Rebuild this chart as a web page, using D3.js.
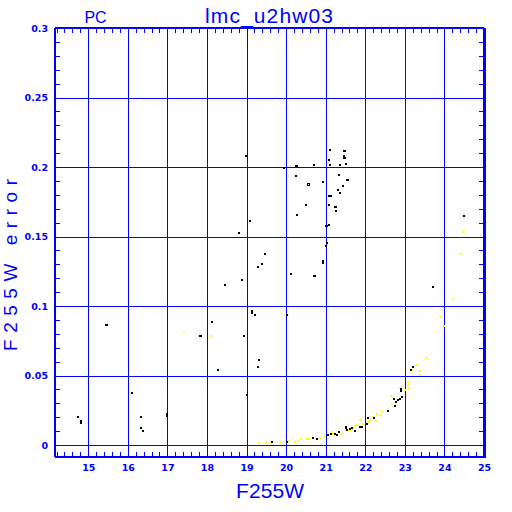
<!DOCTYPE html>
<html>
<head>
  <title>lmc_u2hw03</title>
  <script src="https://d3js.org/d3.v7.min.js"></script>
  <style>
    body { margin: 0; background: white; }
    svg { display: block; }
    .grid line, .minor line { stroke: #0000ff; shape-rendering: crispEdges; }
    .grid path, .minor path, .labels path { display: none; }
    .labels text { fill: #0000ff; font-family: "DejaVu Sans", sans-serif; font-weight: bold; font-size: 9.5px; }
    .title { fill: #0000ff; font-family: "Liberation Sans", sans-serif; }
  </style>
</head>
<body>
<div id="chart"></div>
<script>
  // magnitude / error of the black (measured) points
  const blackMag = [21.08, 21.43, 21.47, 21.43, 21.44, 21.46, 21.05, 18.96, 20.22, 20.25, 20.67, 21.08, 21.34,
    21.48, 19.91, 20.22, 21.30, 21.51, 21.54, 20.90, 21.40, 21.28, 21.33, 21.07, 21.10, 20.47, 21.05, 21.21,
    21.24, 21.23, 20.24, 20.98, 21.00, 21.05, 19.05, 18.78, 21.02, 20.97, 19.43, 19.36, 19.26, 20.90, 20.90,
    20.11, 20.68, 20.71, 18.85, 18.42, 15.42, 15.45, 18.09, 17.80, 17.83, 18.90, 19.10, 19.10, 19.18, 19.28,
    19.26, 18.25, 18.98, 16.07, 14.71, 14.78, 14.78, 16.32, 16.32, 16.37, 16.96, 16.96, 19.63, 20.00, 20.65,
    20.75, 21.04, 21.11, 21.21, 21.26, 21.31, 21.49, 21.49, 21.51, 21.58, 21.65, 21.72, 21.83, 21.88, 22.01,
    22.04, 22.20, 22.55, 22.72, 22.76, 22.71, 22.80, 22.85, 22.90, 22.88, 22.88, 23.18, 23.12, 24.47, 23.69,
    20.00];
  const blackErr = [0.213, 0.212, 0.212, 0.209, 0.2074, 0.2074, 0.206, 0.209, 0.2014, 0.2014, 0.2022, 0.2022, 0.2022,
    0.2029, 0.2000, 0.1945, 0.1952, 0.1916, 0.1916, 0.190, 0.1873, 0.1844, 0.1822, 0.180, 0.180, 0.1736, 0.1736, 0.1722,
    0.1722, 0.1693, 0.1664, 0.1585, 0.1585, 0.1592, 0.1621, 0.1535, 0.1463, 0.1441, 0.1383, 0.1312, 0.129, 0.1329, 0.1315,
    0.124, 0.1225, 0.1225, 0.1196, 0.116, 0.0873, 0.0873, 0.0894, 0.0794, 0.0794, 0.0794, 0.0969, 0.0955, 0.0945, 0.0621,
    0.0568, 0.0549, 0.0369, 0.0381, 0.0211, 0.0178, 0.0164, 0.0211, 0.0132, 0.011, 0.0228, 0.0214, 0.0031, 0.0031, 0.0058,
    0.005, 0.0079, 0.0086, 0.0086, 0.0079, 0.0101, 0.0129, 0.0136, 0.0115, 0.012, 0.0132, 0.0108, 0.0139, 0.0137, 0.0158,
    0.0201, 0.0201, 0.0252, 0.029, 0.0317, 0.0338, 0.0331, 0.034, 0.035, 0.0407, 0.0393, 0.0568, 0.0547, 0.1653, 0.1142,
    0.0945];
  // the one open square
  const openMag = [20.53];
  const openErr = [0.1883];

  // yellow points
  const yellowMag = [17.39, 18.07, 19.28, 19.47, 19.57, 19.81, 19.96, 20.06, 20.20, 20.27, 20.35, 20.50, 20.55, 20.83,
    20.96, 21.13, 21.16, 21.35, 21.53, 21.58, 21.66, 21.72, 21.77, 21.83, 21.88, 22.06, 22.09, 22.14, 22.25, 22.28,
    22.34, 22.39, 22.62, 22.65, 22.84, 22.97, 23.05, 23.05, 23.08, 23.15, 23.25, 23.28, 23.35, 23.35, 23.50, 23.86,
    23.96, 24.19, 24.39, 24.45, 24.47];
  const yellowErr = [0.0822, 0.0794, 0.0024, 0.0022, 0.0022, 0.0029, 0.0029, 0.0036, 0.0031, 0.0036, 0.0048, 0.005,
    0.005, 0.0058, 0.0074, 0.0101, 0.0088, 0.0088, 0.0113, 0.0113, 0.0124, 0.0142, 0.0151, 0.0187, 0.016, 0.0175, 0.0187,
    0.0209, 0.018, 0.023, 0.0221, 0.0252, 0.036, 0.0304, 0.0417, 0.0403, 0.046, 0.0439, 0.042, 0.0549, 0.0583, 0.0583,
    0.054, 0.0511, 0.0633, 0.0928, 0.0861, 0.1058, 0.1383, 0.1542, 0.1542];

  const xLabels = [15, 16, 17, 18, 19, 20, 21, 22, 23, 24, 25];
  const yLabels = ["0", "0.05", "0.1", "0.15", "0.2", "0.25", "0.3"];

  const plotLeft = 55, plotRight = 484, plotTop = 28, plotBottom = 457;

  const svg = d3.select("#chart").append("svg")
    .attr("width", 512)
    .attr("height", 512);

  const x = d3.scaleLinear().domain([14.16, 25]).range([plotLeft, plotRight]);
  const y = d3.scaleLinear().domain([-0.0086, 0.3]).range([plotBottom, plotTop]);

  const yTickVals = yLabels.map(Number);

  // grid lines
  svg.append("g").attr("class", "grid")
    .attr("transform", `translate(0,${plotBottom})`)
    .call(d3.axisBottom(x).tickValues(xLabels.slice(0, -1)).tickSize(-(plotBottom - plotTop)).tickFormat(""));
  svg.append("g").attr("class", "grid")
    .attr("transform", `translate(${plotLeft},0)`)
    .call(d3.axisLeft(y).tickValues(yTickVals.slice(0, -1)).tickSize(-(plotRight - plotLeft)).tickFormat(""));

  // minor ticks on all four sides
  const xMinor = d3.range(142, 250, 2).map(d => d / 10);
  const yMinor = d3.range(0, 30).map(d => d / 100);
  svg.append("g").attr("class", "minor")
    .attr("transform", `translate(0,${plotBottom})`)
    .call(d3.axisBottom(x).tickValues(xMinor).tickSize(-5).tickFormat(""));
  svg.append("g").attr("class", "minor")
    .attr("transform", `translate(0,${plotTop})`)
    .call(d3.axisTop(x).tickValues(xMinor).tickSize(-5).tickFormat(""));
  svg.append("g").attr("class", "minor")
    .attr("transform", `translate(${plotLeft},0)`)
    .call(d3.axisLeft(y).tickValues(yMinor).tickSize(-5).tickFormat(""));
  svg.append("g").attr("class", "minor")
    .attr("transform", `translate(${plotRight},0)`)
    .call(d3.axisRight(y).tickValues(yMinor).tickSize(-5).tickFormat(""));

  // frame
  const frame = svg.append("g").attr("stroke", "#0000ff").attr("shape-rendering", "crispEdges");
  frame.append("line").attr("x1", plotLeft).attr("x2", plotRight).attr("y1", plotTop).attr("y2", plotTop).attr("stroke-width", 1.5);
  frame.append("line").attr("x1", plotLeft).attr("x2", plotRight).attr("y1", plotBottom).attr("y2", plotBottom).attr("stroke-width", 1.5);
  frame.append("line").attr("x1", plotLeft).attr("x2", plotLeft).attr("y1", plotTop).attr("y2", plotBottom).attr("stroke-width", 1.5);
  frame.append("line").attr("x1", plotRight).attr("x2", plotRight).attr("y1", plotTop).attr("y2", plotBottom + 1).attr("stroke-width", 3);

  // tick labels
  svg.append("g").attr("class", "labels")
    .attr("transform", `translate(0,${plotBottom})`)
    .call(d3.axisBottom(x).tickValues(xLabels).tickSize(0).tickPadding(7).tickFormat(d => d));
  svg.append("g").attr("class", "labels")
    .attr("transform", `translate(${plotLeft},0)`)
    .call(d3.axisLeft(y).tickValues(yTickVals).tickSize(0).tickPadding(7).tickFormat((d, i) => yLabels[i]));

  // points
  svg.append("g").selectAll("rect")
    .data(yellowMag)
    .join("rect")
    .attr("x", d => Math.round(x(d)))
    .attr("y", (d, i) => Math.round(y(yellowErr[i])))
    .attr("width", 2)
    .attr("height", 2)
    .attr("fill", "#ffff00");

  svg.append("g").selectAll("rect")
    .data(blackMag)
    .join("rect")
    .attr("x", d => Math.round(x(d)))
    .attr("y", (d, i) => Math.round(y(blackErr[i])))
    .attr("width", 2)
    .attr("height", 2)
    .attr("fill", "black");

  svg.append("g").selectAll("rect")
    .data(openMag)
    .join("rect")
    .attr("x", d => Math.round(x(d)) + 0.5)
    .attr("y", (d, i) => Math.round(y(openErr[i])) + 0.5)
    .attr("width", 2)
    .attr("height", 2)
    .attr("fill", "white")
    .attr("stroke", "black");

  // titles
  svg.append("text").attr("class", "title")
    .attr("x", 95.5).attr("y", 23)
    .attr("text-anchor", "middle")
    .style("font-size", "16px")
    .text("PC");
  svg.append("text").attr("class", "title")
    .attr("x", 269).attr("y", 23)
    .attr("text-anchor", "middle")
    .style("font-size", "21px")
    .attr("textLength", 128)
    .text("lmc_u2hw03");
  svg.append("text").attr("class", "title")
    .attr("x", 270).attr("y", 498)
    .attr("text-anchor", "middle")
    .style("font-size", "21px")
    .attr("textLength", 68)
    .text("F255W");
  svg.append("text").attr("class", "title")
    .attr("transform", "translate(17,265) rotate(-90)")
    .attr("text-anchor", "middle")
    .style("font-size", "19px")
    .attr("textLength", 172)
    .text("F255W error");
</script>
</body>
</html>
